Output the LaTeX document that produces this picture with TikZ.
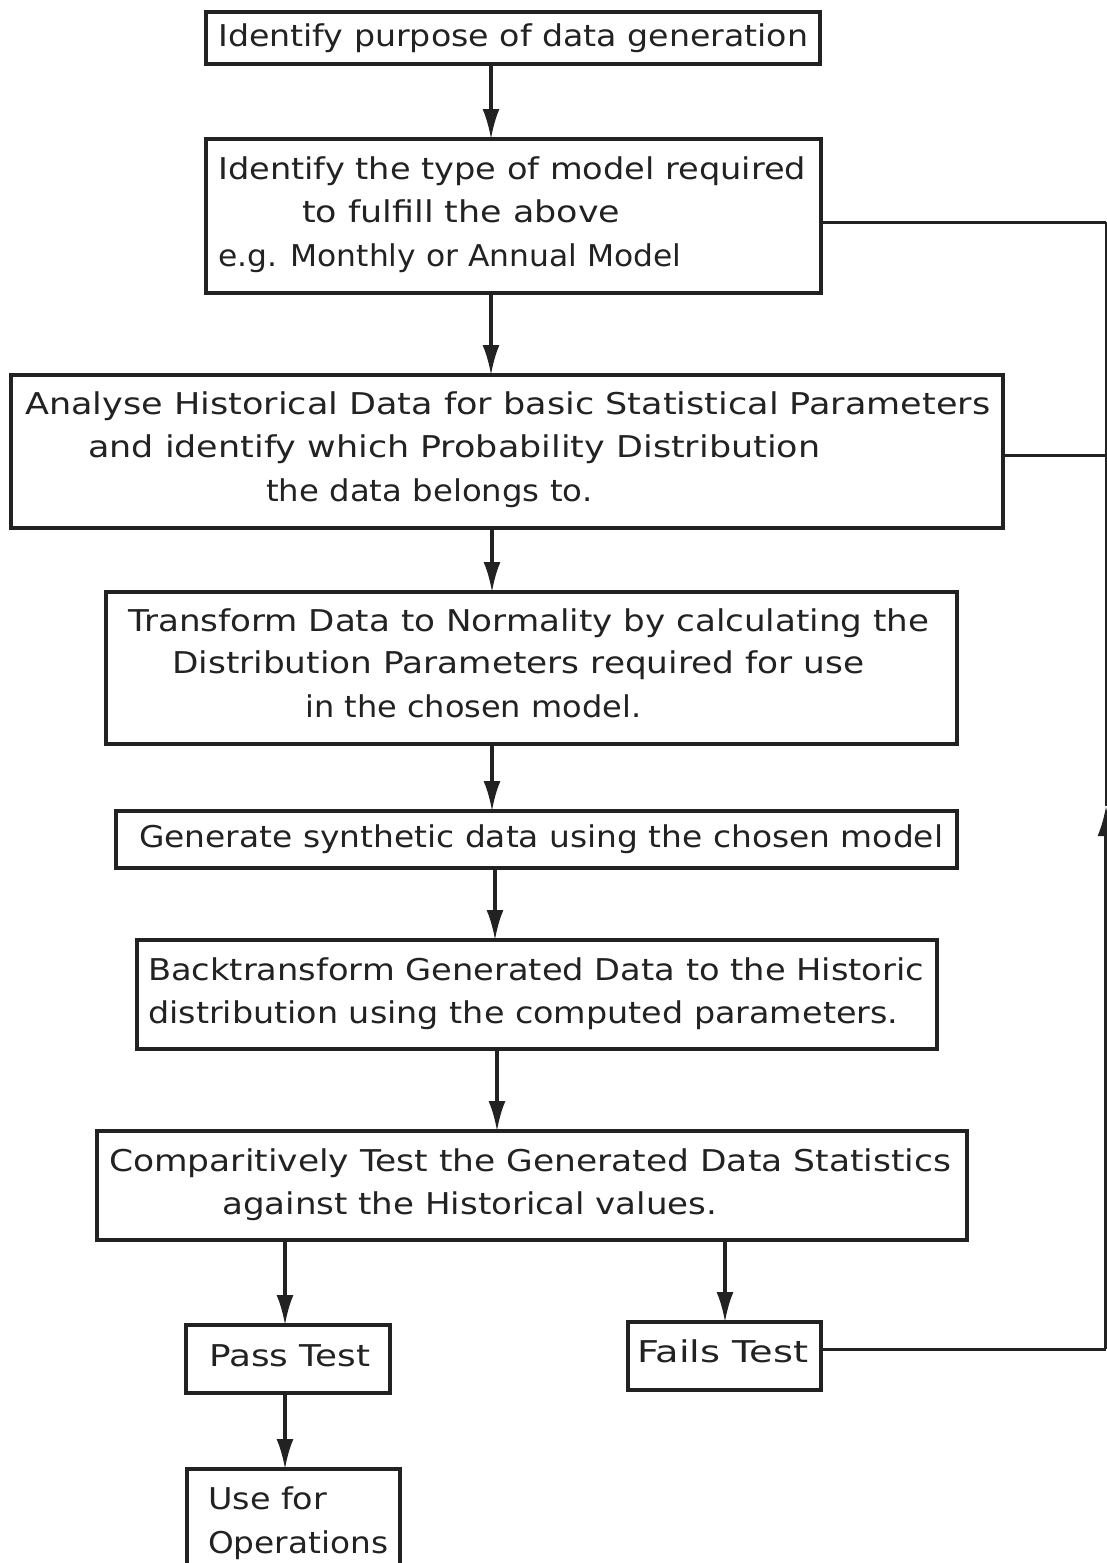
\documentclass[tikz,border=0pt]{standalone}
\usepackage{fontspec}
\setmainfont{DejaVu Sans}
\usepackage{graphicx}
\usetikzlibrary{arrows.meta}
\definecolor{ink}{HTML}{222222}
\tikzset{
  boxst/.style={draw=ink, line width=3.2pt, inner sep=0pt, outer sep=0pt, anchor=north west},
  txt/.style={anchor=base west, inner sep=0pt, text=ink, font=\fontsize{30}{36}\selectfont},
  arr/.style={draw=ink, line width=3.2pt, -{Latex[length=30pt,width=17pt]}},
  lnk/.style={draw=ink, line width=3pt},
}
\newcommand\tl[5]{\node[txt] (#1) at (#2,#3) {\resizebox{#4pt}{\height}{#5}};}
\begin{document}
\begin{tikzpicture}[x=1pt,y=-1pt]
\useasboundingbox (0,0) rectangle (1106,1563);
% boxes
\node[boxst, minimum width=614pt, minimum height=52pt]  (b1) at (206,12) {};
\node[boxst, minimum width=615pt, minimum height=154pt] (b2) at (206,139) {};
\node[boxst, minimum width=992pt, minimum height=153pt] (b3) at (11,375) {};
\node[boxst, minimum width=851pt, minimum height=152pt] (b4) at (106,592) {};
\node[boxst, minimum width=841pt, minimum height=57pt]  (b5) at (116,811) {};
\node[boxst, minimum width=800pt, minimum height=109pt] (b6) at (137,940) {};
\node[boxst, minimum width=870pt, minimum height=109pt] (b7) at (97,1131) {};
\node[boxst, minimum width=204pt, minimum height=68pt]  (bp) at (186,1325) {};
\node[boxst, minimum width=193pt, minimum height=68pt]  (bf) at (628,1322) {};
\node[boxst, minimum width=213pt, minimum height=110pt] (bu) at (187,1469) {};
% texts
\tl{t1}{218}{47}{590}{Identify purpose of data generation}
\tl{t2a}{218}{179}{588}{Identify the type of model required}
\tl{t2b}{302}{222}{318}{to fulfill the above}
\tl{t2c}{218}{266}{463}{e.g. Monthly or Annual Model}
\tl{t3a}{25}{414}{965}{Analyse Historical Data for basic Statistical Parameters}
\tl{t3b}{88}{457}{732}{and identify which Probability Distribution}
\tl{t3c}{266}{501}{326}{the data belongs to.}
\tl{t4a}{128}{631}{801}{Transform Data to Normality by calculating the}
\tl{t4b}{172}{673}{692}{Distribution Parameters required for use}
\tl{t4c}{305}{717}{336}{in the chosen model.}
\tl{t5}{139}{847}{804}{Generate synthetic data using the chosen model}
\tl{t6a}{148}{980}{776}{Backtransform Generated Data to the Historic}
\tl{t6b}{148}{1023}{750}{distribution using the computed parameters.}
\tl{t7a}{109}{1171}{842}{Comparitively Test the Generated Data Statistics}
\tl{t7b}{222}{1214}{495}{against the Historical values.}
\tl{tp}{209}{1366}{161}{Pass Test}
\tl{tf}{637}{1362}{171}{Fails Test}
\tl{tua}{208}{1509}{119}{Use for}
\tl{tub}{208}{1553}{180}{Operations}
% arrows
\draw[arr] (491,0 |- b1.south) -- (491,0 |- b2.north);
\draw[arr] (491,0 |- b2.south) -- (491,0 |- b3.north);
\draw[arr] (492,0 |- b3.south) -- (492,0 |- b4.north);
\draw[arr] (492,0 |- b4.south) -- (492,0 |- b5.north);
\draw[arr] (495,0 |- b5.south) -- (495,0 |- b6.north);
\draw[arr] (497,0 |- b6.south) -- (497,0 |- b7.north);
\draw[arr] (285,0 |- b7.south) -- (285,0 |- bp.north);
\draw[arr] (725,0 |- b7.south) -- (725,0 |- bf.north);
\draw[arr] (285,0 |- bp.south) -- (285,0 |- bu.north);
% feedback lines to the right edge
\coordinate (r1) at (1106,222);
\coordinate (r2) at (1106,455);
\coordinate (r3) at (1106,1349);
\coordinate (rm) at (1106,806);
\draw[lnk] (b2.east |- r1) -- (r1);
\draw[lnk] (b3.east |- r2) -- (r2);
\draw[lnk] (bf.east |- r3) -- (r3);
\draw[arr] (r3) -- (rm);
\draw[lnk] (rm) -- (r1);
\end{tikzpicture}
\end{document}
